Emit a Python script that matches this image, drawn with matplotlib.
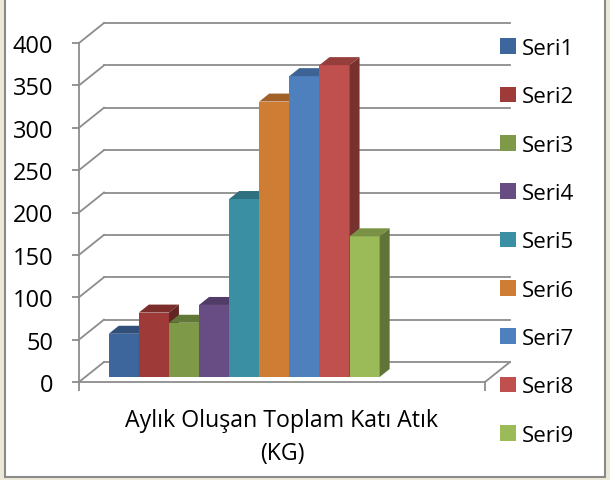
import matplotlib
matplotlib.use('Agg')
import matplotlib.pyplot as plt
from matplotlib.patches import Polygon, Rectangle
import matplotlib.colors as mcolors
import numpy as np

# ---- data ----
series = ['Seri1', 'Seri2', 'Seri3', 'Seri4', 'Seri5', 'Seri6', 'Seri7', 'Seri8', 'Seri9']
values = [51, 76, 64, 85, 210, 325, 355, 368, 166]
category = 'Aylık Oluşan Toplam Katı Atık\n(KG)'
yticks = [0, 50, 100, 150, 200, 250, 300, 350, 400]
colors = ['#3D679C', '#9E3B38', '#7E9A48', '#684D85', '#3B8FA3',
          '#CF7C34', '#4E80BE', '#C0504D', '#9BBB59']

plt.rcParams['font.family'] = ['Open Sans', 'DejaVu Sans']

W, H = 610, 481
fig = plt.figure(figsize=(W / 100, H / 100), dpi=100)
fig.patch.set_facecolor('#ECE9D8')
border = Rectangle((5 / W, 3 / H), 600 / W, 1.0, transform=fig.transFigure,
                   facecolor='white', edgecolor='#8a8a8a', lw=1.5, zorder=-10)
fig.patches.append(border)

grid = '#8c8c8c'
ax = fig.add_axes([79 / W, (H - 383) / H, 406 / W, 339 / H])
ax.patch.set_visible(False)
xl = -0.5 - 23.75 / 30.1
xr = xl + 406 / 30.1
ax.set_xlim(xl, xr)
ax.set_ylim(0, 400)
for s in ['top', 'right']:
    ax.spines[s].set_visible(False)
for s in ['left', 'bottom']:
    ax.spines[s].set_color(grid)
    ax.spines[s].set_linewidth(1.3)
ax.set_yticks(yticks)
ax.tick_params(axis='y', length=5, width=1.3, color=grid, pad=13.5,
               labelsize=17, labelcolor='black')
ax.set_xticks([xl, xr])
ax.set_xticklabels(['', ''])
ax.tick_params(axis='x', length=6.5, width=1.3, color=grid)

ux = (xr - xl) / 406
uy = 400 / 339
bdx, bdy = 25 * ux, 20 * uy

# back wall gridlines and left-wall diagonals
for t in yticks:
    ax.plot([xl + bdx, xr + bdx], [t + bdy, t + bdy], color=grid, lw=1.3,
            clip_on=False, zorder=1)
    ax.plot([xl, xl + bdx], [t, t + bdy], color=grid, lw=1.3,
            clip_on=False, zorder=1)
ax.plot([xr, xr + bdx], [0, bdy], color=grid, lw=1.3, clip_on=False, zorder=1)

# 3D bars
fdx, fdy = 6 * ux, 5 * uy
cdx, cdy = 10 * ux, 8 * uy
x = np.arange(len(values))
bars = ax.bar(x + fdx, values, width=1.0, bottom=fdy, color=colors,
              clip_on=False)


def shade(c, f):
    r, g, b = mcolors.to_rgb(c)
    return (r * f, g * f, b * f)


for i, (b, v, c) in enumerate(zip(bars, values, colors)):
    z = 3 + 3 * i
    b.set_zorder(z)
    x0 = x[i] + fdx - 0.5
    x1 = x0 + 1.0
    top = v + fdy
    cap = Polygon([(x0, top), (x1, top), (x1 + cdx, top + cdy), (x0 + cdx, top + cdy)],
                  closed=True, facecolor=shade(c, 0.78), edgecolor='none',
                  zorder=z + 1, clip_on=False)
    side = Polygon([(x1, fdy), (x1, top), (x1 + cdx, top + cdy), (x1 + cdx, fdy + cdy)],
                   closed=True, facecolor=shade(c, 0.62), edgecolor='none',
                   zorder=z + 2, clip_on=False)
    ax.add_patch(cap)
    ax.add_patch(side)

ax.set_xlabel(category, fontsize=16.7, labelpad=8.5, linespacing=1.5)

leg = fig.legend(bars, series, loc='upper left',
                 bbox_to_anchor=(500 / W, 1 - 39 / H),
                 bbox_transform=fig.transFigure, frameon=False, fontsize=16,
                 handlelength=0.7, handleheight=0.7, handletextpad=0.27,
                 labelspacing=1.23, borderpad=0, borderaxespad=0)
leg.set_zorder(50)

fig.savefig('out.png', dpi=100, facecolor=fig.get_facecolor())
